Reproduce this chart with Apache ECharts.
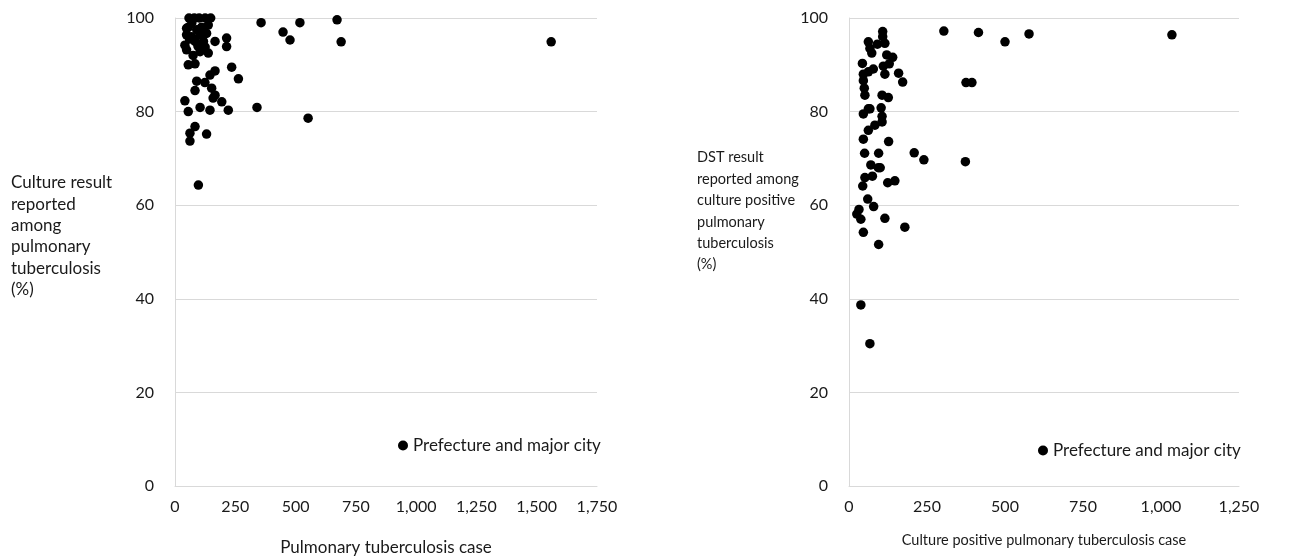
<!DOCTYPE html>
<html><head><meta charset="utf-8">
<script src="https://cdn.jsdelivr.net/npm/echarts@6/dist/echarts.min.js"></script>
<style>html,body{margin:0;padding:0;background:#fff}#c{width:1292px;height:556px}</style>
</head><body><div id="c"></div>
<script>
const seriesName = 'Prefecture and major city';
const leftXTicks = [0, 250, 500, 750, 1000, 1250, 1500, 1750];
const rightXTicks = [0, 250, 500, 750, 1000, 1250];
const yTicks = [0, 20, 40, 60, 80, 100];
// Left: pulmonary TB cases vs culture result reported (%)
const leftPoints = [
  [58,100],[80,100],[100,100],[125,100],[148,100],
  [357,99],[518,99],[672,99.6],[448,97],[477,95.3],[689,94.9],[1560,94.9],
  [552,78.6],[340,80.9],
  [55,98],[138,98.5],[48,97.8],[48,96.4],[69,96],[104,96.4],[131,96.7],[214,95.7],
  [166,95],[41,94.2],[83,95],[118,95],[214,93.9],[48,93.2],[104,92.8],[138,92.5],
  [55,90],[83,90.2],[235,89.5],[166,88.7],[145,87.8],[263,87],[90,86.5],[124,86.2],
  [83,84.5],[152,85],[166,83.5],[158,82.9],[41,82.3],[194,82.1],[55,80],[104,80.9],
  [145,80.3],[221,80.3],[83,76.8],[62,75.4],[62,73.7],[131,75.2],[97,64.3],
  [70,99],[110,98],[90,97.5],[60,95.5],[95,94],[125,93.8],[75,92]
];
// Right: culture positive cases vs DST result reported (%)
const rightPoints = [
  [304,97.2],[415,96.9],[577,96.6],[500,94.9],[1035,96.4],
  [375,86.2],[394,86.2],[373,69.3],[209,71.2],[240,69.7],[127,73.6],
  [44,64.1],[79,59.7],[32,59.1],[25,58.1],[38,57],[115,57.2],[179,55.3],[46,54.2],
  [95,51.6],[38,38.7],[67,30.4],
  [108,97.1],[108,96],[62,94.9],[67,93.5],[91,94.4],[115,94.6],[73,92.5],[121,92.1],
  [140,91.6],[43,90.3],[110,89.7],[129,90.2],[78,89.1],[62,88.5],[46,88],[115,88],
  [159,88.2],[46,86.6],[172,86.3],[49,85],[51,83.5],[106,83.5],[126,83],[46,79.5],
  [62,80.6],[67,80.6],[103,80.8],[106,79],[106,77.8],[83,77.1],[62,76],[46,74.1],
  [50,71.1],[95,71.1],[70,68.6],[94,68],[100,68],[51,65.9],[75,66.2],[124,64.8],
  [147,65.2],[60,61.3]
];
const leftXTitle = 'Pulmonary tuberculosis case';
const rightXTitle = 'Culture positive pulmonary tuberculosis case';
const leftYTitle = 'Culture result\nreported\namong\npulmonary\ntuberculosis\n(%)';
const rightYTitle = 'DST result\nreported among\nculture positive\npulmonary\ntuberculosis\n(%)';

const FONT = 'Lato, "Open Sans", sans-serif';
const TXT = '#1a1a1a';
const fmt = v => v.toLocaleString('en-US');
function xAxis(idx, ticks, title, nameSize, gap){
  return {
    type:'value', gridIndex:idx, min:ticks[0], max:ticks[ticks.length-1], interval:250,
    axisLine:{show:true, lineStyle:{color:'#d9d9d9'}}, axisTick:{show:false},
    splitLine:{show:false},
    axisLabel:{color:TXT, fontSize:16, fontFamily:FONT, margin:13, formatter:fmt},
    name:title, nameLocation:'middle', nameGap:gap,
    nameTextStyle:{color:TXT, fontSize:nameSize, fontFamily:FONT}
  };
}
function yAxis(idx){
  return {
    type:'value', gridIndex:idx, min:0, max:100, interval:20,
    axisLine:{show:true, lineStyle:{color:'#d9d9d9'}}, axisTick:{show:false},
    splitLine:{show:true, lineStyle:{color:'#d9d9d9'}},
    axisLabel:{color:TXT, fontSize:16, fontFamily:FONT, margin:21}
  };
}
const chart = echarts.init(document.getElementById('c'));
chart.setOption({
  animation:false,
  textStyle:{fontFamily:FONT},
  grid:[
    {left:175, right:695, top:18, bottom:70, outerBoundsMode:'none', containLabel:false},
    {left:849, right:53, top:18, bottom:70, outerBoundsMode:'none', containLabel:false}
  ],
  xAxis:[xAxis(0,leftXTicks,leftXTitle,17,53), xAxis(1,rightXTicks,rightXTitle,14.5,47)],
  yAxis:[yAxis(0), yAxis(1)],
  legend:[
    {data:[seriesName], left:393, top:432, icon:'circle', itemWidth:10, itemHeight:10, itemGap:5,
     textStyle:{color:TXT, fontSize:17, fontFamily:FONT}},
    {data:[seriesName], left:1033, top:437, icon:'circle', itemWidth:10, itemHeight:10, itemGap:5,
     textStyle:{color:TXT, fontSize:17, fontFamily:FONT}}
  ],
  graphic:[
    {type:'text', left:11, top:172, style:{text:leftYTitle, fill:TXT, font:'17px '+FONT, lineHeight:21.4}},
    {type:'text', left:697, top:147, style:{text:rightYTitle, fill:TXT, font:'14.5px '+FONT, lineHeight:21.4}}
  ],
  series:[
    {name:seriesName, type:'scatter', xAxisIndex:0, yAxisIndex:0, data:leftPoints,
     symbol:'circle', symbolSize:9.5, itemStyle:{color:'#000', opacity:1}},
    {name:seriesName, type:'scatter', xAxisIndex:1, yAxisIndex:1, data:rightPoints,
     symbol:'circle', symbolSize:9.5, itemStyle:{color:'#000', opacity:1}}
  ]
});
</script></body></html>
